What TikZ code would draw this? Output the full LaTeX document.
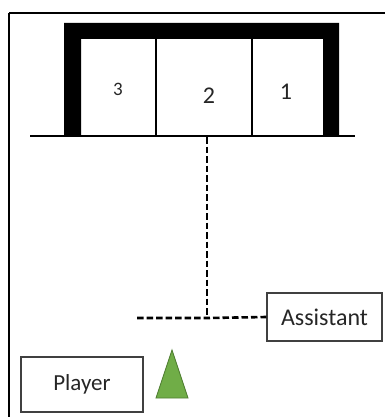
\documentclass[tikz,border=0pt]{standalone}
\usepackage{fontspec}
\setmainfont{Carlito}
\definecolor{leaf}{HTML}{70AD47}
\definecolor{leafedge}{HTML}{507E32}
\definecolor{ink}{HTML}{262626}
\begin{document}
\begin{tikzpicture}[x=1pt,y=-1pt,
  labelbox/.style={draw=black!75,line width=1.1pt,rectangle,inner sep=0pt,text=ink},
  bin/.style={rectangle,inner sep=0pt,text=ink},
  dashline/.style={line width=2.6pt,dash pattern=on 6.5pt off 3pt}]
\useasboundingbox (0,0) rectangle (385,417);
% frame edges
\draw[line width=1.6pt] (9,13) -- (385,13);
\draw[line width=1.6pt] (9,13) -- (9,417);
% shelf frame
\fill (64,136) -- (64,23) -- (339,23) -- (339,136) -- (323,136) -- (323,39)
  -- (81,39) -- (81,136) -- cycle;
% bins
\node[bin,minimum width=75pt,minimum height=97pt] (bin3) at (118.5,87.5) {};
\node[bin,minimum width=96pt,minimum height=97pt] (bin2) at (204,87.5) {};
\node[bin,minimum width=71pt,minimum height=97pt] (bin1) at (287.5,87.5) {};
\draw[line width=1.5pt] (bin3.north east) -- (bin3.south east);
\draw[line width=1.5pt] (bin1.north west) -- (bin1.south west);
\node[text=ink,font=\fontsize{19}{21}\selectfont] (n3) at (118,89) {3};
\node[text=ink,font=\fontsize{24}{26}\selectfont] (n2) at (209,96) {2};
\node[text=ink,font=\fontsize{24}{26}\selectfont] (n1) at (286,92) {1};
% floor line
\draw[line width=2pt] (30,136) -- (355,136);
% people
\node[labelbox,minimum width=115pt,minimum height=48pt,font=\fontsize{24}{26}\selectfont] (assistant) at (324.5,317) {Assistant};
\node[labelbox,minimum width=122pt,minimum height=55pt,font=\fontsize{23}{25}\selectfont] (player) at (82,384.5) {Player};
\fill[leaf,draw=leafedge,line width=0.8pt] (156,398) -- (172,350) -- (188,398) -- cycle;
% dashed path
\coordinate (junction) at (207,318);
\coordinate (freeend) at (137,318);
\draw[dashline] (207,137) -- (junction);
\draw[dashline] (freeend) -- (junction) -- (assistant.west);
\end{tikzpicture}
\end{document}
